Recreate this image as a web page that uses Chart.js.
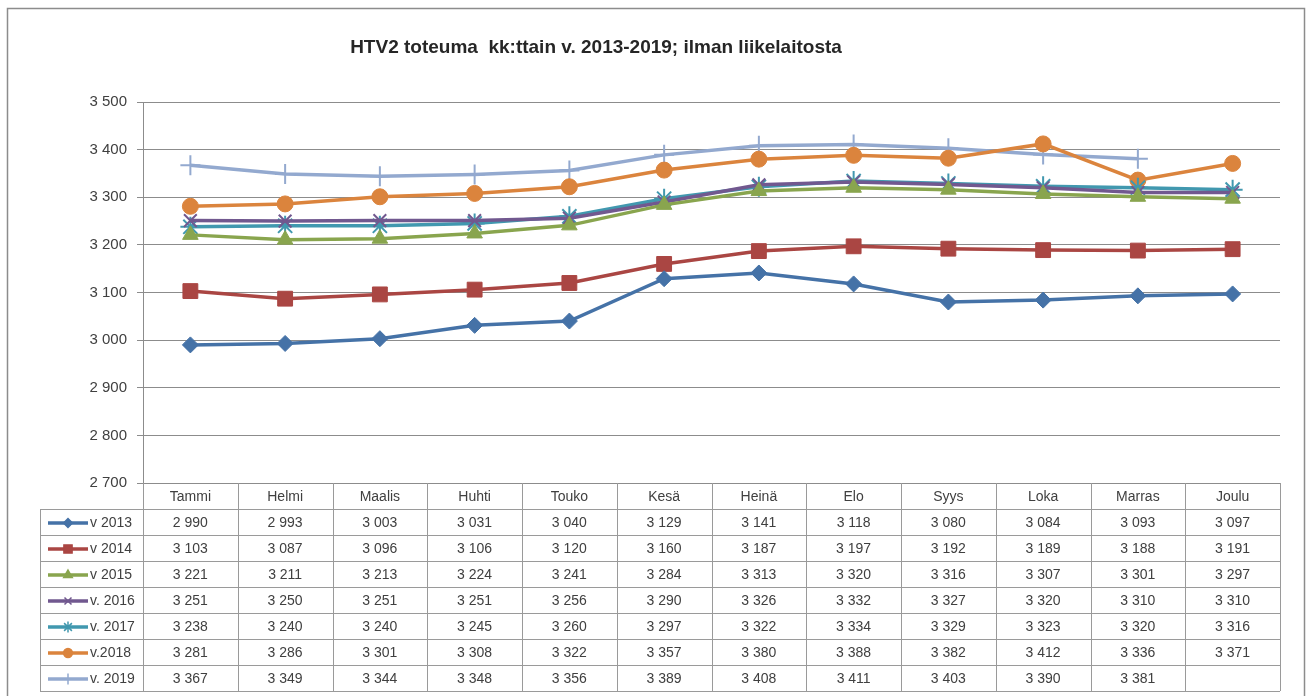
<!DOCTYPE html>
<html>
<head>
<meta charset="utf-8">
<script src="https://cdn.jsdelivr.net/npm/chart.js@4.4.1/dist/chart.umd.min.js"></script>
<style>
  html, body { margin: 0; padding: 0; background: #fff; }
  #wrap { width: 1312px; height: 696px; position: relative; }
</style>
</head>
<body>
<div id="wrap"><canvas id="htvChart" width="1312" height="696"></canvas></div>
<script>
const months = ['Tammi', 'Helmi', 'Maalis', 'Huhti', 'Touko', 'Kesä', 'Heinä', 'Elo', 'Syys', 'Loka', 'Marras', 'Joulu'];
const seriesNames = ['v 2013', 'v 2014', 'v 2015', 'v. 2016', 'v. 2017', 'v.2018', 'v. 2019'];
const v2013 = [2990, 2993, 3003, 3031, 3040, 3129, 3141, 3118, 3080, 3084, 3093, 3097];
const v2014 = [3103, 3087, 3096, 3106, 3120, 3160, 3187, 3197, 3192, 3189, 3188, 3191];
const v2015 = [3221, 3211, 3213, 3224, 3241, 3284, 3313, 3320, 3316, 3307, 3301, 3297];
const v2016 = [3251, 3250, 3251, 3251, 3256, 3290, 3326, 3332, 3327, 3320, 3310, 3310];
const v2017 = [3238, 3240, 3240, 3245, 3260, 3297, 3322, 3334, 3329, 3323, 3320, 3316];
const v2018 = [3281, 3286, 3301, 3308, 3322, 3357, 3380, 3388, 3382, 3412, 3336, 3371];
const v2019 = [3367, 3349, 3344, 3348, 3356, 3389, 3408, 3411, 3403, 3390, 3381, null];
const yTicks = [2700, 2800, 2900, 3000, 3100, 3200, 3300, 3400, 3500];

const colors = ['#4572A7', '#AA4643', '#89A54E', '#71588F', '#4198AF', '#DB843D', '#93A9CF'];
const markers = ['rectRot', 'rect', 'triangle', 'crossRot', 'star', 'circle', 'cross'];
const radii = [8, 10.5, 9, 9, 10, 8, 10];
const allValues = [v2013, v2014, v2015, v2016, v2017, v2018, v2019];

const fmt = v => {
  if (v === null || v === undefined) return '';
  const s = String(Math.round(v));
  return s.length > 3 ? s.slice(0, s.length - 3) + ' ' + s.slice(-3) : s;
};

const FONT = '"Liberation Sans", Arial, sans-serif';
const TEXT = '#404040';
const LINE = '#9a9a9a';
const ROW_H = 26;

// title, outer frame and the data table under the plot
const tablePlugin = {
  id: 'dataTable',
  afterDraw(chart) {
    const { ctx, chartArea, scales } = chart;
    const x = scales.x;
    const left = chartArea.left, right = chartArea.right, top = chartArea.bottom;
    const colW = (right - left) / months.length;
    const keyLeft = 40;
    ctx.save();

    // frame
    ctx.strokeStyle = '#8c8c8c';
    ctx.lineWidth = 1.5;
    ctx.strokeRect(7.5, 8.5, 1297, 720);

    // title
    ctx.fillStyle = '#262626';
    ctx.font = 'bold 19px ' + FONT;
    ctx.textAlign = 'center';
    ctx.textBaseline = 'middle';
    ctx.fillText('HTV2 toteuma  kk:ttain v. 2013-2019; ilman liikelaitosta', 596, 48);

    // grid of the table
    ctx.strokeStyle = LINE;
    ctx.lineWidth = 1;
    const nRows = seriesNames.length;
    const bottom = top + ROW_H * (nRows + 1);
    ctx.beginPath();
    for (let r = 1; r <= nRows + 1; r++) {
      const y = Math.round(top + r * ROW_H) + 0.5;
      ctx.moveTo(keyLeft, y); ctx.lineTo(right, y);
    }
    for (let c = 0; c <= months.length; c++) {
      const xx = Math.round(left + c * colW) + 0.5;
      ctx.moveTo(xx, top); ctx.lineTo(xx, bottom);
    }
    ctx.moveTo(keyLeft + 0.5, top + ROW_H); ctx.lineTo(keyLeft + 0.5, bottom);
    ctx.stroke();

    // header
    ctx.fillStyle = TEXT;
    ctx.font = '14px ' + FONT;
    ctx.textAlign = 'center';
    months.forEach((m, i) => {
      ctx.fillText(m, x.getPixelForValue(i), top + ROW_H / 2 + 1);
    });

    // rows
    chart.data.datasets.forEach((ds, r) => {
      const cy = top + ROW_H * (r + 1) + ROW_H / 2 + 1;
      // legend key
      ctx.strokeStyle = ds.borderColor;
      ctx.fillStyle = ds.borderColor;
      ctx.lineWidth = 3.5;
      ctx.beginPath();
      ctx.moveTo(keyLeft + 8, cy); ctx.lineTo(keyLeft + 48, cy);
      ctx.stroke();
      ctx.lineWidth = 1.5;
      Chart.helpers.drawPoint(ctx, {
        pointStyle: ds.pointStyle,
        radius: ds.pointRadius * 0.55,
        rotation: 0,
        borderWidth: 1.5
      }, keyLeft + 28, cy);
      ctx.fillStyle = TEXT;
      ctx.textAlign = 'left';
      ctx.fillText(ds.label, keyLeft + 50, cy);
      ctx.textAlign = 'center';
      ds.data.forEach((v, i) => {
        ctx.fillText(fmt(v), x.getPixelForValue(i), cy);
      });
    });
    ctx.restore();
  }
};

const ctx = document.getElementById('htvChart').getContext('2d');
const htvChart = new Chart(ctx, {
  type: 'line',
  data: {
    labels: months,
    datasets: seriesNames.map((name, i) => ({
      label: name,
      data: allValues[i],
      borderColor: colors[i],
      backgroundColor: colors[i],
      pointStyle: markers[i],
      pointRadius: radii[i],
      pointBorderWidth: (markers[i] === 'cross' || markers[i] === 'crossRot' || markers[i] === 'star') ? 2 : 1,
      borderWidth: 3.5,
      tension: 0,
      spanGaps: false
    }))
  },
  options: {
    responsive: false,
    animation: false,
    layout: { padding: { left: 0, right: 32, top: 102, bottom: 213 } },
    plugins: {
      legend: { display: false },
      title: { display: false },
      tooltip: { enabled: false }
    },
    scales: {
      x: { display: false, offset: true },
      y: {
        min: 2700,
        max: 3500,
        afterFit: s => { s.width = 143; },
        afterBuildTicks: s => { s.ticks = yTicks.map(v => ({ value: v })); },
        grid: { color: '#8c8c8c', lineWidth: 1, tickLength: 6, drawTicks: true },
        border: { color: '#8c8c8c' },
        ticks: {
          color: TEXT,
          font: { family: FONT, size: 15 },
          padding: 10,
          callback: v => fmt(v)
        }
      }
    }
  },
  plugins: [tablePlugin]
});
</script>
</body>
</html>
